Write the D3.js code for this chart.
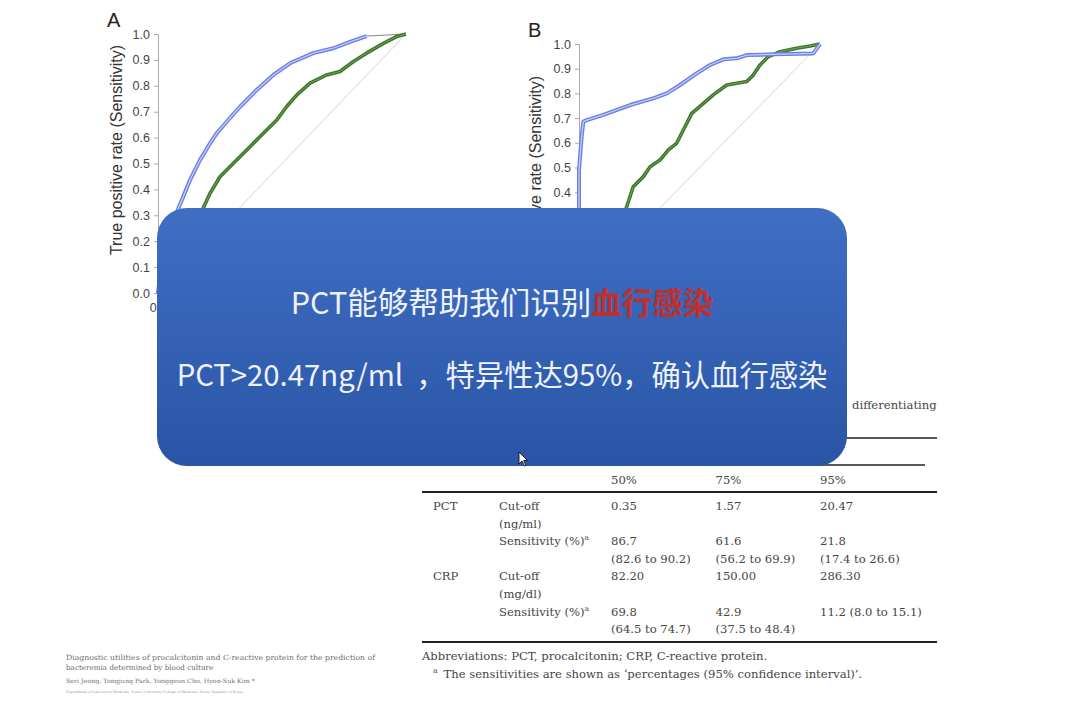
<!DOCTYPE html>
<html>
<head>
<meta charset="utf-8">
<script src="https://cdn.jsdelivr.net/npm/d3@7"></script>
<style>
  html, body { margin: 0; padding: 0; background: #fff; }
  svg { display: block; }
</style>
</head>
<body>
<div id="chart"></div>
<script>
// tick values shared by both ROC panels
const rocTicks = [0, 0.1, 0.2, 0.3, 0.4, 0.5, 0.6, 0.7, 0.8, 0.9, 1.0]

// ROC points [false positive rate, true positive rate]
const pctA = [[0, 0], [0.01, 0.08], [0.03, 0.16], [0.05, 0.23], [0.07, 0.29], [0.082, 0.327], [0.102, 0.372],
  [0.129, 0.436], [0.169, 0.513], [0.21, 0.578], [0.237, 0.617], [0.277, 0.661], [0.331, 0.719], [0.398, 0.784],
  [0.465, 0.842], [0.532, 0.887], [0.626, 0.926], [0.707, 0.945], [0.774, 0.970], [0.841, 0.992]]
const pctATail = [[0.841, 0.992], [1, 1]]
const crpA = [[0, 0], [0.05, 0.07], [0.1, 0.15], [0.145, 0.24], [0.182, 0.327], [0.21, 0.385], [0.25, 0.449],
  [0.304, 0.501], [0.371, 0.565], [0.425, 0.617], [0.479, 0.668], [0.519, 0.720], [0.559, 0.764], [0.613, 0.81],
  [0.68, 0.842], [0.734, 0.855], [0.788, 0.894], [0.841, 0.926], [0.909, 0.964], [0.962, 0.99], [1, 1]]

const pctB = [[0, 0], [0, 0.49], [0.011, 0.625], [0.018, 0.686], [0.032, 0.692], [0.101, 0.713], [0.212, 0.753],
  [0.308, 0.78], [0.364, 0.8], [0.419, 0.834], [0.488, 0.881], [0.544, 0.915], [0.599, 0.938], [0.654, 0.942],
  [0.696, 0.955], [0.806, 0.958], [0.972, 0.962], [1, 1]]
const crpB = [[0, 0], [0.08, 0.1], [0.15, 0.22], [0.198, 0.341], [0.225, 0.422], [0.267, 0.463], [0.295, 0.503],
  [0.336, 0.53], [0.371, 0.571], [0.405, 0.598], [0.433, 0.652], [0.468, 0.719], [0.516, 0.76], [0.557, 0.794],
  [0.613, 0.834], [0.696, 0.848], [0.723, 0.874], [0.751, 0.915], [0.786, 0.949], [0.834, 0.969], [0.903, 0.983],
  [0.959, 0.992], [1, 1]]

// only the tick labels that are not hidden behind the overlay
const xLabelsA = [0]
const yLabelsB = [0.4, 0.5, 0.6, 0.7, 0.8, 0.9, 1.0]

// table contents
const colHeaders = ['50%', '75%', '95%']
const pctCutoff = ['0.35', '1.57', '20.47']
const pctSens = ['86.7', '61.6', '21.8']
const pctSensCI = ['(82.6 to 90.2)', '(56.2 to 69.9)', '(17.4 to 26.6)']
const crpCutoff = ['82.20', '150.00', '286.30']
const crpSens = ['69.8', '42.9', '11.2 (8.0 to 15.1)']
const crpSensCI = ['(64.5 to 74.7)', '(37.5 to 48.4)', '']

const citation = [
  'Diagnostic utilities of procalcitonin and C-reactive protein for the prediction of',
  'bacteremia determined by blood culture'
]
const authors = 'Seri Jeong, Yongjung Park, Yonggeun Cho, Hyon-Suk Kim *'
const affiliation = 'Department of Laboratory Medicine, Yonsei University College of Medicine, Seoul, Republic of Korea'

const headline = 'PCT能够帮助我们识别'
const headlineRed = '血行感染'
const subline = 'PCT>20.47ng/ml \u00a0，特异性达95%，确认血行感染'

const width = 1080
const height = 702

const svg = d3.select('#chart')
  .append('svg')
  .attr('width', width)
  .attr('height', height)
  .style('background-color', '#FFF')

const sans = 'Liberation Sans, Arial, sans-serif'
const serif = 'DejaVu Serif, serif'

function styleAxis (axis) {
  axis.select('.domain').attr('stroke', '#aaa')
  axis.selectAll('.tick line').attr('stroke', '#aaa')
  axis.selectAll('.tick text')
    .attr('font-family', sans)
    .attr('font-size', 12.5)
    .attr('fill', '#444')
}

function drawPanel (letter, frame, curves) {
  const x = d3.scaleLinear().domain([0, 1]).range([frame.left, frame.right])
  const y = d3.scaleLinear().domain([0, 1]).range([frame.bottom, frame.top])
  const g = svg.append('g')
  const fmt = d3.format('.1f')

  g.append('text')
    .attr('x', frame.left - 51)
    .attr('y', frame.top - 7)
    .attr('font-family', sans)
    .attr('font-size', 20)
    .attr('fill', '#222')
    .text(letter)

  const yAxis = g.append('g')
    .attr('transform', `translate(${frame.left}, 0)`)
    .call(d3.axisLeft(y).tickValues(rocTicks)
      .tickFormat(d => frame.yLabels.includes(d) ? fmt(d) : '')
      .tickSize(4).tickPadding(4))
  styleAxis(yAxis)

  const xAxis = g.append('g')
    .attr('transform', `translate(0, ${frame.bottom})`)
    .call(d3.axisBottom(x).tickValues(rocTicks)
      .tickFormat(d => frame.xLabels.includes(d) ? fmt(d) : '')
      .tickSize(4).tickPadding(6))
  styleAxis(xAxis)
  g.selectAll('.tick text').filter(function () { return this.textContent === '' }).remove()

  g.append('text')
    .attr('transform', `translate(${frame.titleX}, ${frame.titleY}) rotate(-90)`)
    .attr('text-anchor', 'middle')
    .attr('font-family', sans)
    .attr('font-size', 16)
    .attr('fill', '#333')
    .text('True positive rate (Sensitivity)')

  // reference diagonal
  g.append('line')
    .attr('x1', x(0)).attr('y1', y(0))
    .attr('x2', x(1)).attr('y2', y(1))
    .attr('stroke', '#d4d4d4')
    .attr('stroke-width', 1)

  const line = d3.line()
    .x(d => x(d[0]))
    .y(d => y(d[1]))

  if (curves.tail) {
    g.append('path')
      .datum(curves.tail)
      .attr('fill', 'none')
      .attr('stroke', '#888')
      .attr('stroke-width', 1)
      .attr('d', line)
  }

  // CRP in green
  g.append('path')
    .datum(curves.crp)
    .attr('fill', 'none')
    .attr('stroke', '#3b7526')
    .attr('stroke-width', 3.6)
    .attr('stroke-linejoin', 'round')
    .attr('d', line)
  g.append('path')
    .datum(curves.crp)
    .attr('fill', 'none')
    .attr('stroke', '#79a865')
    .attr('stroke-width', 0.9)
    .attr('d', line)

  // PCT in blue open markers
  g.append('path')
    .datum(curves.pct)
    .attr('fill', 'none')
    .attr('stroke', '#6a7fe4')
    .attr('stroke-width', 4)
    .attr('stroke-linejoin', 'round')
    .attr('d', line)
  g.append('path')
    .datum(curves.pct)
    .attr('fill', 'none')
    .attr('stroke', '#c4ccf6')
    .attr('stroke-width', 1.3)
    .attr('d', line)
}

drawPanel('A', { left: 158, right: 406, top: 34, bottom: 293, titleX: 122, titleY: 150, xLabels: xLabelsA, yLabels: rocTicks },
  { pct: pctA, crp: crpA, tail: pctATail })
drawPanel('B', { left: 579, right: 820, top: 44, bottom: 291, titleX: 541, titleY: 181, xLabels: [], yLabels: yLabelsB },
  { pct: pctB, crp: crpB })

// ---- table ----
const table = svg.append('g')
  .attr('font-family', serif)
  .attr('font-size', 11.6)
  .attr('fill', '#454545')

const col = d3.scalePoint().domain(colHeaders).range([611, 820])
const rowY = d3.scaleLinear().domain([0, 7]).range([510, 633.3])

table.append('text').attr('x', 852).attr('y', 409).text('differentiating')

const rules = [
  { x1: 700, x2: 937, y: 438, w: 1.4 },
  { x1: 818, x2: 925, y: 465, w: 1.4 },
  { x1: 422, x2: 937, y: 492, w: 2 },
  { x1: 422, x2: 937, y: 642, w: 2 }
]
table.selectAll('line.rule')
  .data(rules)
  .join('line')
  .attr('class', 'rule')
  .attr('x1', d => d.x1).attr('x2', d => d.x2)
  .attr('y1', d => d.y).attr('y2', d => d.y)
  .attr('stroke', '#222')
  .attr('stroke-width', d => d.w)

table.selectAll('text.head')
  .data(colHeaders)
  .join('text')
  .attr('class', 'head')
  .attr('x', d => col(d))
  .attr('y', 483.5)
  .text(d => d)

function valueRow (values, rowIndex) {
  table.selectAll(null)
    .data(values)
    .join('text')
    .attr('x', (d, i) => col(colHeaders[i]))
    .attr('y', rowY(rowIndex))
    .text(d => d)
}

function sensLabel (rowIndex) {
  const t = table.append('text').attr('x', 499).attr('y', rowY(rowIndex))
  t.append('tspan').text('Sensitivity (%)')
  t.append('tspan').attr('font-size', 7.5).attr('dy', -5).text('a')
}

table.append('text').attr('x', 433).attr('y', rowY(0)).text('PCT')
table.append('text').attr('x', 499).attr('y', rowY(0)).text('Cut-off')
table.append('text').attr('x', 499).attr('y', rowY(1)).text('(ng/ml)')
sensLabel(2)
valueRow(pctCutoff, 0)
valueRow(pctSens, 2)
valueRow(pctSensCI, 3)

table.append('text').attr('x', 433).attr('y', rowY(4)).text('CRP')
table.append('text').attr('x', 499).attr('y', rowY(4)).text('Cut-off')
table.append('text').attr('x', 499).attr('y', rowY(5)).text('(mg/dl)')
sensLabel(6)
valueRow(crpCutoff, 4)
valueRow(crpSens, 6)
valueRow(crpSensCI, 7)

table.append('text').attr('x', 422).attr('y', 659.5)
  .text('Abbreviations: PCT, procalcitonin; CRP, C-reactive protein.')
const foot = table.append('text').attr('x', 433).attr('y', 677.5)
foot.append('tspan').attr('font-size', 7.5).attr('dy', -5).text('a')
foot.append('tspan').attr('dx', 6).attr('dy', 5).text('The sensitivities are shown as \u2018percentages (95% confidence interval)\u2019.')

// ---- citation block, bottom left ----
const cite = svg.append('g').attr('font-family', serif).attr('fill', '#6a6a6a')
cite.selectAll('text.cite')
  .data(citation)
  .join('text')
  .attr('class', 'cite')
  .attr('x', 66)
  .attr('y', (d, i) => 659.5 + i * 10.8)
  .attr('font-size', 7.2)
  .text(d => d)
cite.select('text.cite')
  .attr('textLength', 309)
  .attr('lengthAdjust', 'spacingAndGlyphs')
cite.append('text')
  .attr('x', 66).attr('y', 682.5)
  .attr('font-size', 6)
  .attr('fill', '#707070')
  .attr('textLength', 189)
  .attr('lengthAdjust', 'spacingAndGlyphs')
  .text(authors)
cite.append('text')
  .attr('x', 66).attr('y', 693)
  .attr('font-size', 3.4)
  .attr('fill', '#999')
  .attr('textLength', 177)
  .attr('lengthAdjust', 'spacingAndGlyphs')
  .text(affiliation)

// ---- blue overlay box ----
const defs = svg.append('defs')
const grad = defs.append('linearGradient')
  .attr('id', 'boxFill')
  .attr('x1', 0).attr('y1', 0).attr('x2', 0).attr('y2', 1)
grad.append('stop').attr('offset', '0%').attr('stop-color', '#3f6ec3')
grad.append('stop').attr('offset', '100%').attr('stop-color', '#2a55a6')

svg.append('rect')
  .attr('x', 157)
  .attr('y', 208)
  .attr('width', 690)
  .attr('height', 258)
  .attr('rx', 30)
  .attr('ry', 30)
  .attr('fill', 'url(#boxFill)')

const cjk = 'Noto Sans CJK SC, Noto Sans, sans-serif'
const h1 = svg.append('text')
  .attr('x', 502)
  .attr('y', 314)
  .attr('text-anchor', 'middle')
  .attr('font-family', cjk)
  .attr('font-size', 30.5)
  .attr('fill', '#eef2fc')
h1.append('tspan').text(headline)
h1.append('tspan').attr('fill', '#c0302a').attr('font-weight', 700).text(headlineRed)

svg.append('text')
  .attr('x', 502)
  .attr('y', 386)
  .attr('text-anchor', 'middle')
  .attr('font-family', cjk)
  .attr('font-size', 29.3)
  .attr('fill', '#eef2fc')
  .text(subline)

// mouse pointer left on the slide
svg.append('path')
  .attr('transform', 'translate(519, 452)')
  .attr('d', 'M0,0 L0,12 L3,9 L5.5,14 L7,13.3 L4.6,8.5 L8.5,8.5 Z')
  .attr('fill', '#fff')
  .attr('stroke', '#111')
  .attr('stroke-width', 0.9)
</script>
</body>
</html>
